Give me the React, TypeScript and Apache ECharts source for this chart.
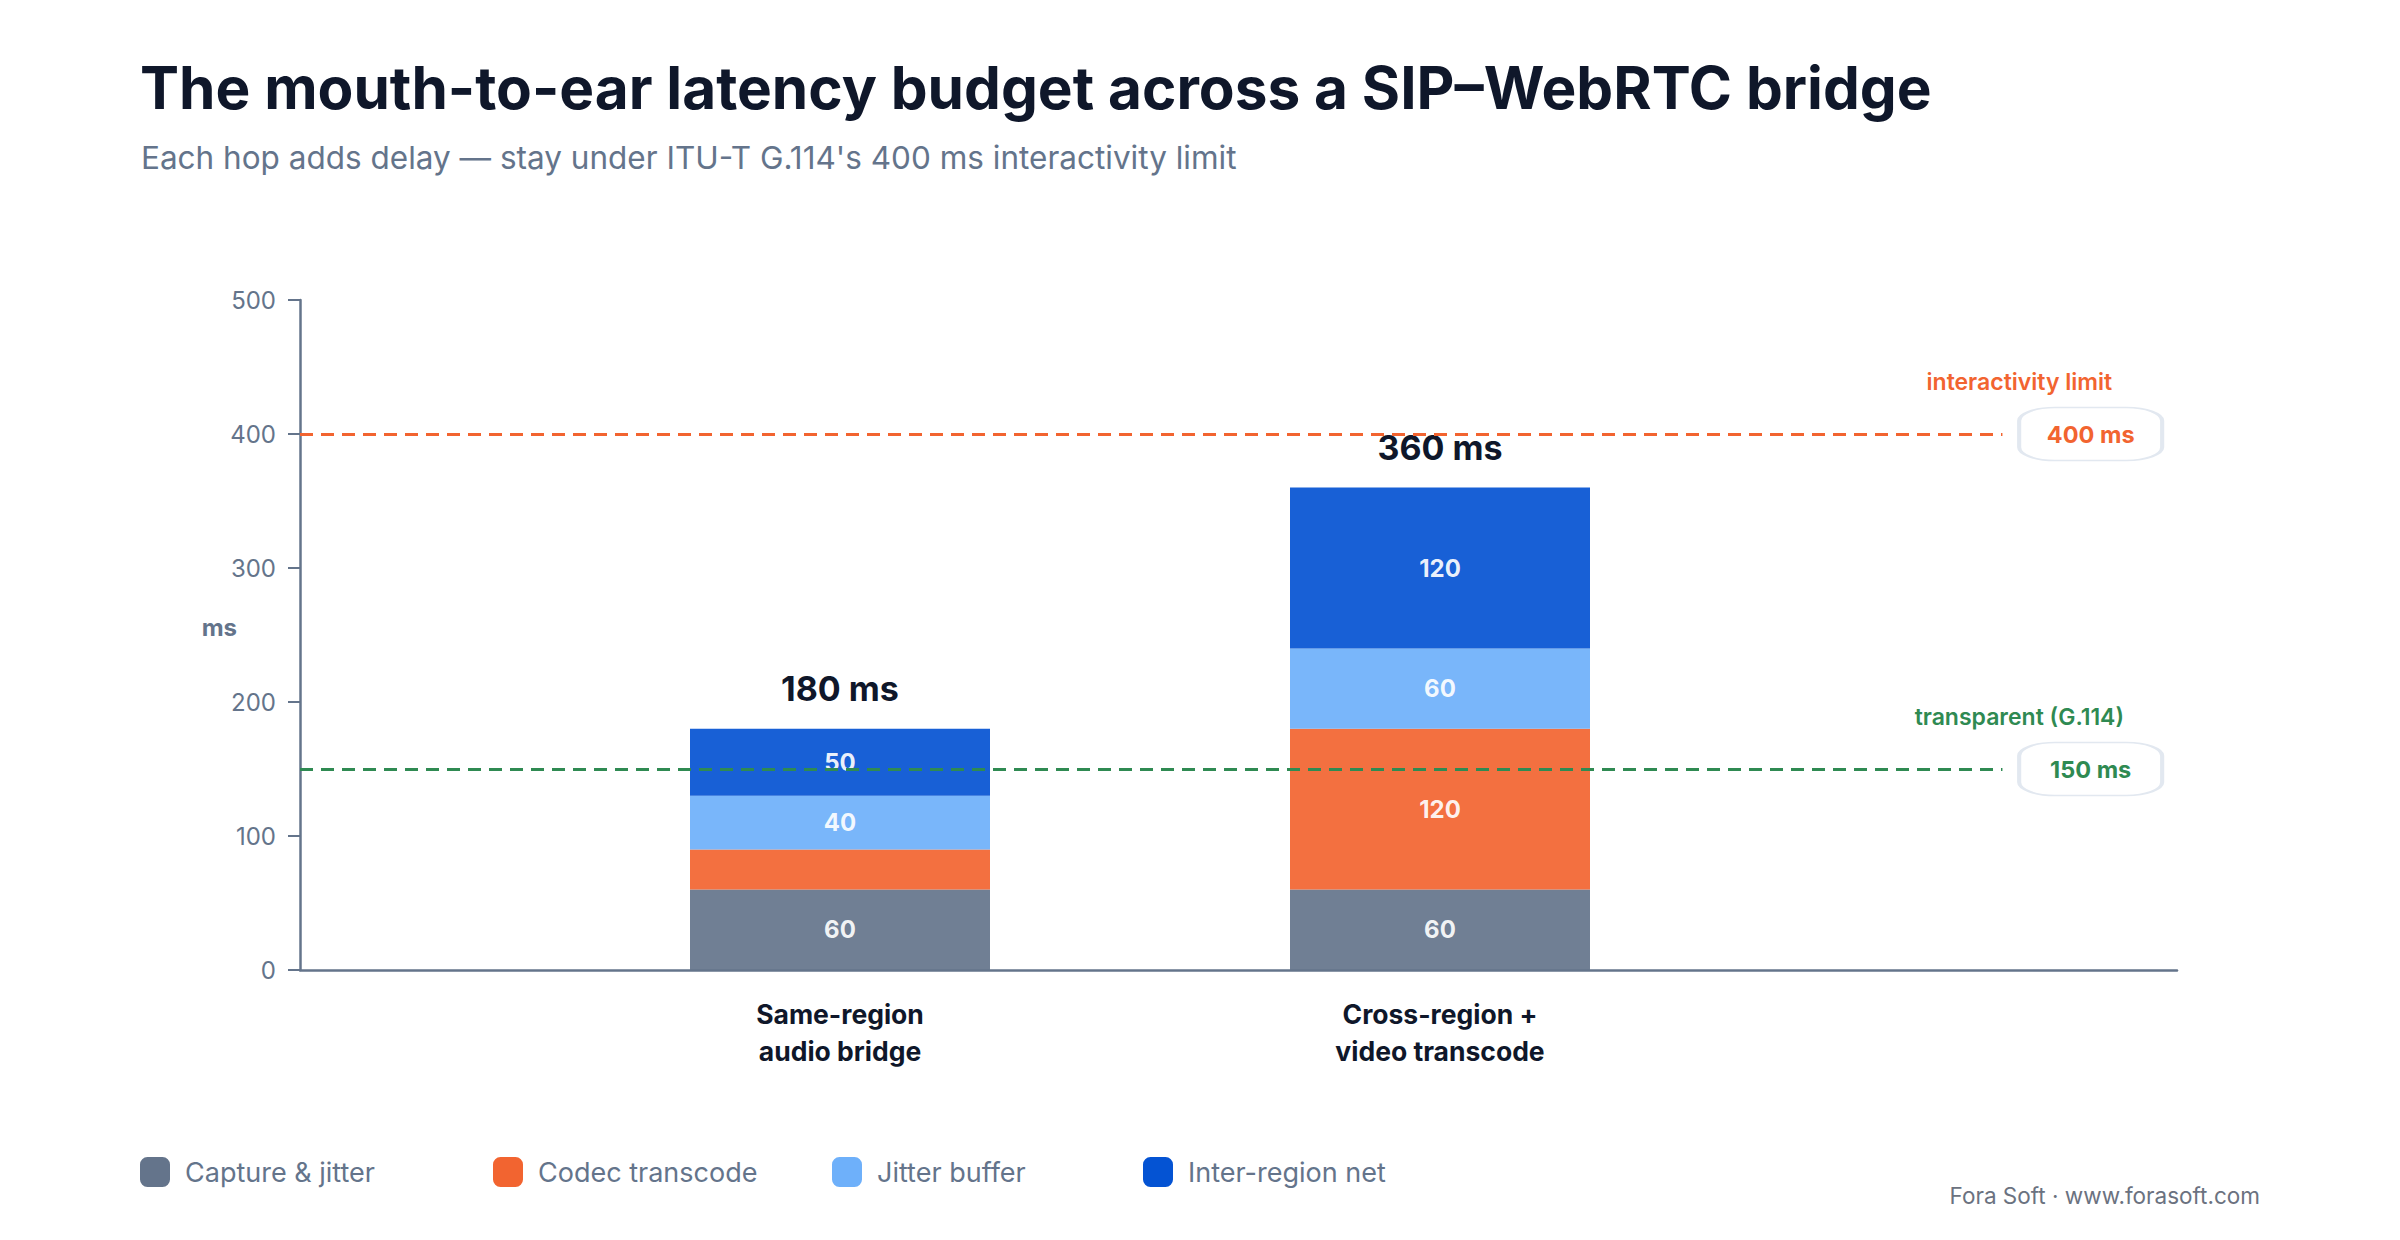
import * as echarts from 'echarts'
import React, { useEffect, useRef } from 'react'

const categories = ['Same-region\naudio bridge', 'Cross-region +\nvideo transcode']
const seriesNames = ['Capture & jitter', 'Codec transcode', 'Jitter buffer', 'Inter-region net']
const captureJitter = [60, 60]
const codecTranscode = [30, 120]
const jitterBuffer = [40, 60]
const interRegionNet = [50, 120]
const seriesColors = ['#64748b', '#f26430', '#6eb0fa', '#0453d3']

const limitValues = [400, 150]
const limitNotes = ['interactivity limit', 'transparent (G.114)']
const limitColors = ['#f26430', '#2f8a52']

// hidden 0..100 x scale of the outer grid, used to place the reference lines
const LINE_END = 90.7
const BOX_X = 95.4
const NOTE_X = 91.6

const legendLefts = [140, 493, 832, 1143]

export default function App() {
  const chartRef = useRef<HTMLDivElement>(null)

  useEffect(() => {
    const chart = echarts.init(chartRef.current, null, { renderer: 'svg' })

    const stacks = [captureJitter, codecTranscode, jitterBuffer, interRegionNet]
    const totals = categories.map((_, i) => stacks.reduce((s, arr) => s + arr[i], 0))

    const option = {
      animation: false,
      backgroundColor: '#ffffff',
      textStyle: { fontFamily: 'Inter' },
      title: [
        {
          text: 'The mouth-to-ear latency budget across a SIP–WebRTC bridge',
          left: 140,
          top: 58,
          padding: 0,
          textStyle: { fontSize: 58.5, fontWeight: 700, color: '#0f172a', fontFamily: 'Inter' },
        },
        {
          text: "Each hop adds delay — stay under ITU-T G.114's 400 ms interactivity limit",
          left: 141,
          top: 141,
          padding: 0,
          textStyle: { fontSize: 31.5, fontWeight: 400, color: '#64748b', fontFamily: 'Inter' },
        },
      ],
      legend: seriesNames.map((name, i) => ({
        data: [name],
        left: legendLefts[i],
        top: 1157,
        padding: 0,
        icon: 'roundRect',
        itemWidth: 30,
        itemHeight: 30,
        selectedMode: false,
        itemStyle: { opacity: 1 },
        textStyle: { fontSize: 27, color: '#64748b', padding: [0, 0, 0, 10], fontFamily: 'Inter' },
      })),
      grid: [
        { left: 300, right: 223, top: 300, bottom: 270 },
        { left: 540, right: 660, top: 300, bottom: 270 },
      ],
      xAxis: [
        {
          type: 'value',
          gridIndex: 0,
          min: 0,
          max: 100,
          axisLine: { show: true, lineStyle: { color: '#64748b', width: 2.5 } },
          axisTick: { show: false },
          axisLabel: { show: false },
          splitLine: { show: false },
        },
        {
          type: 'category',
          gridIndex: 1,
          data: categories,
          axisLine: { show: false },
          axisTick: { show: false },
          axisLabel: {
            fontSize: 26.5,
            fontWeight: 700,
            color: '#0f172a',
            lineHeight: 37,
            margin: 25,
            fontFamily: 'Inter',
          },
        },
      ],
      yAxis: [
        {
          type: 'value',
          gridIndex: 0,
          min: 0,
          max: 500,
          interval: 100,
          name: 'ms',
          nameLocation: 'middle',
          nameRotate: 0,
          nameGap: 63,
          nameMoveOverlap: false,
          nameTextStyle: {
            fontSize: 24,
            fontWeight: 700,
            color: '#64748b',
            verticalAlign: 'bottom',
            lineHeight: 16,
            fontFamily: 'Inter',
          },
          axisLine: { show: true, lineStyle: { color: '#64748b', width: 2.5 } },
          axisTick: { show: true, length: 12, lineStyle: { color: '#64748b', width: 2 } },
          axisLabel: { fontSize: 24, color: '#64748b', margin: 24, fontFamily: 'Inter' },
          splitLine: { show: false },
        },
        { type: 'value', gridIndex: 1, min: 0, max: 500, show: false },
      ],
      series: [
        {
          name: 'limits',
          type: 'line',
          xAxisIndex: 0,
          yAxisIndex: 0,
          data: [],
          z: 1,
          silent: true,
          markLine: {
            silent: true,
            symbol: ['none', 'none'],
            label: { show: false },
            data: limitValues.map((v, i) => {
              const ls = { color: limitColors[i], type: [13, 8], width: 3 }
              return [
                { coord: [0, v], lineStyle: ls },
                { coord: [LINE_END, v], lineStyle: ls },
              ]
            }),
          },
          markPoint: {
            silent: true,
            data: [
              ...limitValues.map((v, i) => ({
                coord: [BOX_X, v],
                symbol: 'roundRect',
                symbolSize: [143, 53],
                itemStyle: { color: '#ffffff', borderColor: '#e2e8f0', borderWidth: 2.5 },
                label: {
                  show: true,
                  position: 'inside',
                  formatter: `${v} ms`,
                  color: limitColors[i],
                  fontSize: 23.5,
                  fontWeight: 700,
                  fontFamily: 'Inter',
                },
              })),
              ...limitValues.map((v, i) => ({
                coord: [NOTE_X, v],
                symbol: 'circle',
                symbolSize: 0,
                label: {
                  show: true,
                  position: 'inside',
                  offset: [0, -52],
                  formatter: limitNotes[i],
                  color: limitColors[i],
                  fontSize: 23,
                  fontWeight: 600,
                  fontFamily: 'Inter',
                },
              })),
            ],
          },
        },
        ...seriesNames.map((name, i) => ({
          name,
          type: 'bar',
          stack: 'total',
          xAxisIndex: 1,
          yAxisIndex: 1,
          barWidth: 300,
          data: stacks[i],
          z: 3,
          itemStyle: { color: seriesColors[i], opacity: 0.92 },
          emphasis: { disabled: true },
          label: {
            show: true,
            position: 'inside',
            color: '#ffffff',
            fontSize: 24,
            fontWeight: 700,
            fontFamily: 'Inter',
            formatter: (p: any) => (p.value >= 40 ? String(p.value) : ''),
          },
        })),
        {
          name: 'total',
          type: 'scatter',
          xAxisIndex: 1,
          yAxisIndex: 1,
          data: totals,
          symbolSize: 1,
          silent: true,
          z: 4,
          itemStyle: { color: 'rgba(0,0,0,0)', opacity: 1 },
          label: {
            show: true,
            position: 'top',
            distance: 23,
            opacity: 1,
            formatter: (p: any) => `${p.value} ms`,
            fontSize: 34,
            fontWeight: 700,
            color: '#0f172a',
            fontFamily: 'Inter',
          },
        },
      ],
      graphic: [
        {
          type: 'text',
          right: 140,
          top: 1184,
          style: {
            text: 'Fora Soft · www.forasoft.com',
            fill: '#6b7280',
            font: '400 22.5px Inter',
          },
        },
      ],
    }

    chart.setOption(option as any)

    return () => {
      chart.dispose()
    }
  }, [])

  return (
    <div
      ref={chartRef}
      style={{ position: 'fixed', left: 0, top: 0, width: '2400px', height: '1240px' }}
    />
  )
}
